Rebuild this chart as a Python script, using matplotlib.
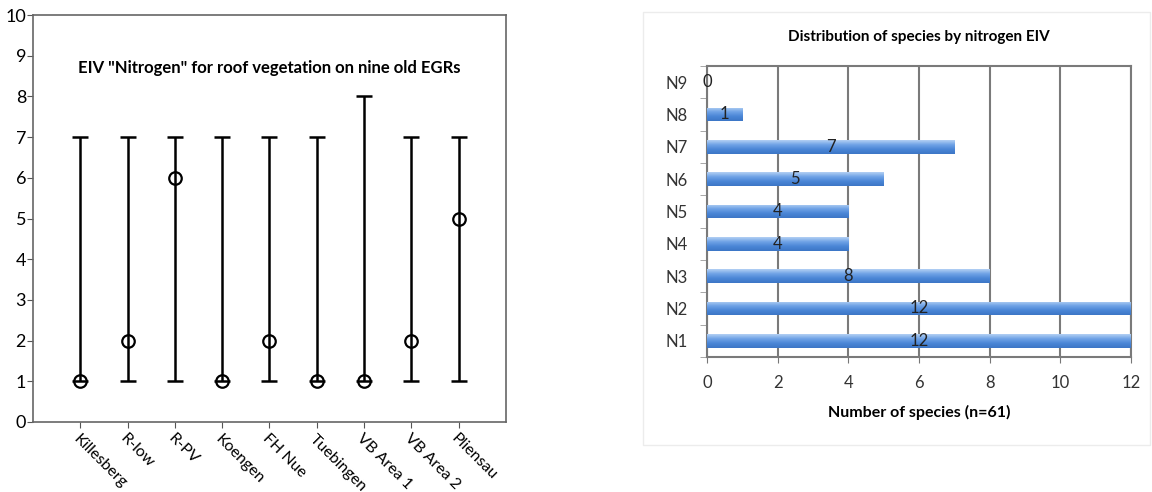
import numpy as np
import matplotlib
matplotlib.use("Agg")
import matplotlib.pyplot as plt
from matplotlib.colors import LinearSegmentedColormap
from matplotlib.patches import Rectangle

plt.rcParams["font.family"] = ["Lato", "DejaVu Sans"]

# left panel: EIV nitrogen per site (min, median, max)
sites = ["Killesberg", "R-low", "R-PV", "Koengen", "FH Nue", "Tuebingen",
         "VB Area 1", "VB Area 2", "Pliensau"]
n_min = [1, 1, 1, 1, 1, 1, 1, 1, 1]
n_med = [1, 2, 6, 1, 2, 1, 1, 2, 5]
n_max = [7, 7, 7, 7, 7, 7, 8, 7, 7]

# right panel: species count per nitrogen class
classes = ["N1", "N2", "N3", "N4", "N5", "N6", "N7", "N8", "N9"]
counts = [12, 12, 8, 4, 4, 5, 7, 1, 0]

fig = plt.figure(figsize=(11.52, 4.92), dpi=100)

# ---- left: range + median chart ----
ax = fig.add_axes([0.0286, 0.1423, 0.4106, 0.827])
x = np.arange(len(sites))
med = np.array(n_med)
lo = med - np.array(n_min)
hi = np.array(n_max) - med
ax.errorbar(x, med, yerr=[lo, hi], fmt="none", ecolor="black", elinewidth=1.8,
            capsize=6, capthick=1.8)
ax.plot(x, med, "o", mfc="none", mec="black", mew=1.6, ms=9, ls="none")
ax.set_xlim(-1, 9)
ax.set_ylim(0, 10)
ax.set_yticks(range(0, 11))
ax.set_xticks(x)
ax.set_xticklabels(sites, rotation=-45, ha="left", va="top", rotation_mode="anchor",
                   fontsize=11.5)
ax.tick_params(axis="y", labelsize=13, length=4, color="#555555", pad=1)
ax.tick_params(axis="x", length=4, color="#555555", pad=3)
for s in ax.spines.values():
    s.set_color("#666666")
    s.set_linewidth(1.2)
ax.text(4, 8.7, 'EIV "Nitrogen" for roof vegetation on nine old EGRs', ha="center",
        va="center", fontsize=12, fontweight="bold")

# ---- right: horizontal bar chart ----
fig.patches.append(Rectangle((0.558, 0.095), 0.44, 0.88, transform=fig.transFigure,
                             fill=False, edgecolor="#ececec", lw=1))
bx = fig.add_axes([0.6137, 0.2744, 0.368, 0.5915])
y = np.arange(len(classes))
bars = bx.barh(y, counts, height=0.42, color="#5b93e0", zorder=3)
cmap = LinearSegmentedColormap.from_list("b", ["#b3d0f4", "#6fa2e6", "#4a86d6", "#3c76c6"])
grad = np.linspace(0, 1, 64).reshape(-1, 1)
for b in bars:
    if b.get_width() <= 0:
        continue
    x0, y0 = b.get_x(), b.get_y()
    im = bx.imshow(grad, cmap=cmap, aspect="auto", zorder=4,
                   extent=[x0, x0 + b.get_width(), y0, y0 + b.get_height()],
                   origin="upper")
    im.set_clip_path(b)
for yi, c in zip(y, counts):
    bx.text(c / 2, yi, str(c), ha="center", va="center", fontsize=12,
            color="#222222", zorder=5)
bx.set_xlim(0, 12)
bx.set_ylim(-0.5, 8.5)
bx.set_xticks(range(0, 13, 2))
bx.set_yticks(y)
bx.set_yticklabels(classes)
bx.set_yticks(np.arange(-0.5, 9, 1), minor=True)
bx.tick_params(axis="y", which="major", length=0, pad=14, labelsize=12, labelcolor="#333333")
bx.tick_params(axis="y", which="minor", length=5, color="#999999")
bx.tick_params(axis="x", length=4, color="#777777", labelsize=12, labelcolor="#333333", pad=9)
bx.grid(True, axis="x", color="#7a7a7a", lw=1.5, zorder=1)
bx.set_axisbelow(True)
for s in bx.spines.values():
    s.set_color("#7a7a7a")
    s.set_linewidth(1.5)
bx.set_xlabel("Number of species (n=61)", fontsize=11.5, fontweight="bold", labelpad=10)
bx.set_title("Distribution of species by nitrogen EIV", fontsize=11, fontweight="bold",
             pad=18)

fig.savefig("out.png", dpi=100)
